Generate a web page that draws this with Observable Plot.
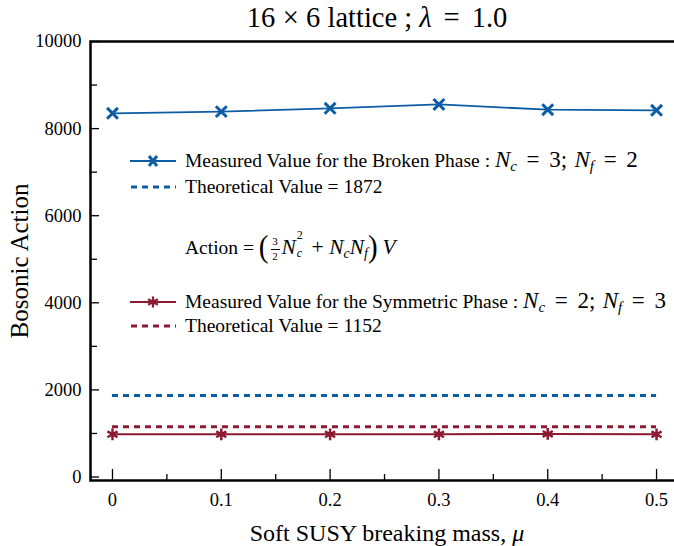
<!DOCTYPE html>
<html>
<head>
<meta charset="utf-8">
<script src="https://cdn.jsdelivr.net/npm/d3@7"></script>
<script src="https://cdn.jsdelivr.net/npm/@observablehq/plot@0.6"></script>
<style>
  html, body { margin: 0; padding: 0; background: #fff; }
  #chart { position: relative; width: 674px; height: 546px; overflow: hidden; font-family: "Liberation Serif", "Times New Roman", Times, "DejaVu Serif", serif; color: #000; }
  #title { position: relative; height: 26px; width: 594px; margin-left: 80px; text-align: center; font-size: 28.5px; line-height: 36px; }
  .ov { position: absolute; white-space: nowrap; }
  .leg { position: absolute; left: 130px; font-size: 19.5px; line-height: 22px; white-space: nowrap; display: flex; align-items: center; }
  .leg svg { margin-right: 9px; }
  i { font-style: italic; }
  .m { font-size: 21.5px; }
  .leg .m { font-size: 23px; }
  .rel { margin: 0 0.42em; }
  .bin { margin: 0 0.26em; }
  .semi { margin-right: 0.32em; }
  sub { font-size: 14px; vertical-align: -4px; line-height: 0; }
  .leg sub { font-size: 15px; }
  .frac { display: inline-block; position: relative; width: 11px; height: 26px; vertical-align: -8px; margin: 0 1px; }
  .frac span { position: absolute; left: 0; width: 11px; text-align: center; font-size: 11px; line-height: 12px; }
  .frac .num { top: -1px; }
  .frac .bar { position: absolute; left: 1px; width: 9px; top: 12.5px; height: 1px; background: #000; }
  .frac .den { top: 14px; }
  .paren { font-size: 29px; display: inline-block; transform: scaleY(1.1); vertical-align: -2px; font-weight: 300; }
  .ss { display: inline-block; position: relative; width: 10px; height: 10px; }
  .ss .up { position: absolute; left: 1px; top: -14px; font-size: 12px; line-height: 10px; }
  .ss .dn { position: absolute; left: 1px; top: 4px; font-size: 12px; line-height: 10px; font-style: italic; }
</style>
</head>
<body>
<div id="chart">
  <div id="title">16<span class="bin">×</span>6 lattice ; <i>λ</i><span class="rel">=</span>1.0</div>
</div>
<script>
// ---- data ----
const mu = [0, 0.1, 0.2, 0.3, 0.4, 0.5];
const brokenMeasured = [8350, 8390, 8465, 8555, 8435, 8420];
const symmetricMeasured = [980, 980, 980, 980, 990, 980];
const brokenTheory = 1872;
const symmetricTheory = 1152;
const xTicks = [0, 0.1, 0.2, 0.3, 0.4, 0.5];
const xMinorTicks = [0.05, 0.15, 0.25, 0.35, 0.45];
const yTicks = [0, 2000, 4000, 6000, 8000, 10000];
const yMinorTicks = [1000, 3000, 5000, 7000, 9000];

const blue = "#0C5DA5";
const red = "#8C1A32";
const serif = "'Liberation Serif', 'Times New Roman', Times, 'DejaVu Serif', serif";

const W = 674, H = 520, mL = 90, mR = 0, mT = 15, mB = 66;
const innerW = W - mL - mR, innerH = H - mT - mB;

const broken = mu.map((m, i) => ({mu: m, v: brokenMeasured[i]}));
const symmetric = mu.map((m, i) => ({mu: m, v: symmetricMeasured[i]}));

const chart = Plot.plot({
  width: W, height: H,
  marginLeft: mL, marginRight: mR, marginTop: mT, marginBottom: mB,
  x: {domain: [-0.0202, 0.5165]},
  y: {domain: [-80, 10000]},
  style: {fontFamily: serif, fontSize: "18px", color: "#000", background: "#fff"},
  marks: [
    Plot.ruleY([brokenTheory], {x1: mu[0], x2: mu[mu.length - 1], stroke: blue, strokeWidth: 3, strokeDasharray: "6,5"}),
    Plot.ruleY([symmetricTheory], {x1: mu[0], x2: mu[mu.length - 1], stroke: red, strokeWidth: 3, strokeDasharray: "6,5"}),
    Plot.line(broken, {x: "mu", y: "v", stroke: blue, strokeWidth: 1.8}),
    Plot.dot(broken, {x: "mu", y: "v", symbol: "times", r: 5, stroke: blue, strokeWidth: 3}),
    Plot.line(symmetric, {x: "mu", y: "v", stroke: red, strokeWidth: 2}),
    Plot.dot(symmetric, {x: "mu", y: "v", symbol: "asterisk", r: 5.5, stroke: red, strokeWidth: 2.5}),
    Plot.tickY(yTicks, {y: d => d, insetRight: innerW - 9, stroke: "#000", strokeWidth: 1.3}),
    Plot.tickY(yMinorTicks, {y: d => d, insetRight: innerW - 7, stroke: "#000", strokeWidth: 1.3}),
    Plot.tickX(xTicks, {x: d => d, insetTop: innerH - 11, stroke: "#000", strokeWidth: 1.3}),
    Plot.tickX(xMinorTicks, {x: d => d, insetTop: innerH - 6, stroke: "#000", strokeWidth: 1.3}),
    Plot.axisY(yTicks, {tickSize: 0, tickPadding: 9, tickFormat: d3.format("d"), label: null, fontSize: 18.5}),
    Plot.axisX(xTicks, {tickSize: 0, tickPadding: 12, tickFormat: d => d === 0 ? "0" : String(d), label: null, fontSize: 18.5}),
    Plot.frame({stroke: "#000", strokeWidth: 2.5, insetRight: -6})
  ]
});
const holder = document.getElementById("chart");
holder.appendChild(chart);

function sample(color, dashed, symbol) {
  let s = `<svg width="46" height="14" viewBox="0 0 46 14">`;
  if (dashed) {
    s += `<line x1="1" y1="7" x2="46" y2="7" stroke="${color}" stroke-width="3" stroke-dasharray="6,5"/>`;
  } else {
    s += `<line x1="0" y1="7" x2="46" y2="7" stroke="${color}" stroke-width="1.8"/>`;
    if (symbol === "times") {
      s += `<path d="M19,2L27,12M27,2L19,12" stroke="${color}" stroke-width="3"/>`;
    } else {
      s += `<path d="M23,1.5V12.5M18.2,4.2L27.8,9.8M27.8,4.2L18.2,9.8" stroke="${color}" stroke-width="2.3"/>`;
    }
  }
  return s + `</svg>`;
}

const eq = `<span class="rel">=</span>`;
const legendRows = [
  {top: 149, html: sample(blue, false, "times") + `<span>Measured Value for the Broken Phase : <span class="m"><i>N</i><sub><i>c</i></sub>${eq}3;<span class="semi"></span><i>N</i><sub><i>f</i></sub>${eq}2</span></span>`},
  {top: 176, html: sample(blue, true) + `<span>Theoretical Value = ${brokenTheory}</span>`},
  {top: 290, html: sample(red, false, "asterisk") + `<span>Measured Value for the Symmetric Phase : <span class="m"><i>N</i><sub><i>c</i></sub>${eq}2;<span class="semi"></span><i>N</i><sub><i>f</i></sub>${eq}3</span></span>`},
  {top: 315, html: sample(red, true) + `<span>Theoretical Value = ${symmetricTheory}</span>`}
];
for (const r of legendRows) {
  const d = document.createElement("div");
  d.className = "leg";
  d.style.top = r.top + "px";
  d.innerHTML = r.html;
  holder.appendChild(d);
}
const action = document.createElement("div");
action.className = "ov";
action.style.cssText = "left:185px;top:231px;font-size:19.5px;line-height:30px;";
action.innerHTML = `Action = <span class="paren">(</span><span class="frac"><span class="num">3</span><span class="bar"></span><span class="den">2</span></span><span class="m"><i>N</i><span class="ss"><span class="up">2</span><span class="dn">c</span></span><span class="bin">+</span><i>N</i><sub><i>c</i></sub><i>N</i><sub><i>f</i></sub></span><span class="paren">)</span> <span class="m"><i>V</i></span>`;
holder.appendChild(action);

const xl = document.createElement("div");
xl.className = "ov";
xl.style.cssText = "left:90px;width:594px;text-align:center;top:519px;font-size:24px;line-height:28px;";
xl.innerHTML = `Soft SUSY breaking mass, <i>μ</i>`;
holder.appendChild(xl);

const yl = document.createElement("div");
yl.className = "ov";
yl.style.cssText = "left:20px;top:261px;font-size:25px;line-height:26px;transform:translate(-50%,-50%) rotate(-90deg);";
yl.textContent = "Bosonic Action";
holder.appendChild(yl);
</script>
</body>
</html>
